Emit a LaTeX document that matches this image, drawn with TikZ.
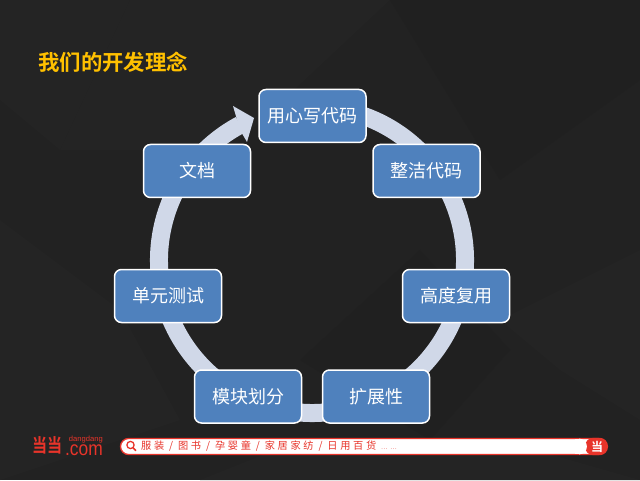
\documentclass[tikz,border=0pt]{standalone}
\usepackage{fontspec}
\setmainfont{Noto Sans CJK SC}
\newfontfamily\barfont[LetterSpace=26]{Noto Sans CJK SC}
\newfontfamily\cjkbold{Noto Sans CJK SC Bold}
\setsansfont{Liberation Sans}
\definecolor{bgdark}{HTML}{222222}
\definecolor{bgfacet}{HTML}{242424}
\definecolor{bgfacetb}{HTML}{202020}
\definecolor{ringc}{HTML}{D0D8E8}
\definecolor{boxc}{HTML}{4F81BD}
\definecolor{titlec}{HTML}{FFC000}
\definecolor{ddred}{HTML}{E8342A}
\tikzset{
  x=1pt,y=1pt,
  stepbox/.style={draw=white,line width=1.5pt,fill=boxc,rounded corners=7pt,minimum width=107pt,minimum height=53pt,inner sep=0pt,text=white,font=\fontsize{18}{20}\selectfont,anchor=center},
  barlabel/.style={text=ddred,font=\barfont\fontsize{10.2}{11}\selectfont,inner sep=0pt,anchor=west},
}
\begin{document}
\begin{tikzpicture}
\useasboundingbox (0,0) rectangle (640,480);
\fill[bgdark] (0,0) rectangle (640,480);
% faint background facets
\fill[bgfacet] (0,480) -- (130,480) -- (60,330) -- (0,380) -- cycle;
\fill[bgfacet] (130,480) -- (390,480) -- (230,330) -- (60,330) -- cycle;
\fill[bgfacetb] (390,480) -- (640,480) -- (640,400) -- (500,300) -- cycle;
\fill[bgfacet] (0,260) -- (120,170) -- (180,60) -- (0,0) -- cycle;
\fill[bgfacet] (500,160) -- (640,230) -- (640,60) -- (560,110) -- cycle;
\fill[bgfacetb] (300,120) -- (420,230) -- (510,130) -- (430,40) -- cycle;
\fill[bgfacet] (300,40) -- (500,40) -- (640,0) -- (200,0) -- cycle;
% ring with arrow head
\coordinate (ringc) at (312,220);
\draw[ringc,line width=18pt] (ringc) ++(80:153pt) arc[start angle=80,end angle=-242,radius=153pt];
\fill[ringc] (233,374) -- (254,362) -- (247,338) -- (240,350) -- cycle;
% steps
\node[stepbox] (write) at (312.5,364) {用心写代码};
\node[stepbox] (clean) at (426.5,309) {整洁代码};
\node[stepbox] (reuse) at (456,184) {高度复用};
\node[stepbox] (extend) at (376,83.5) {扩展性};
\node[stepbox] (module) at (248,83.5) {模块划分};
\node[stepbox] (test) at (168,184) {单元测试};
\node[stepbox] (doc) at (197,309) {文档};
% title
\node[text=titlec,font=\cjkbold\fontsize{21.4}{24}\selectfont,inner sep=0pt,anchor=west] (title) at (38,418) {我们的开发理念};
% logo
\node[text=ddred,font=\cjkbold\fontsize{15}{16}\selectfont,inner sep=0pt,anchor=west,yscale=1.25,transform shape] (logomark) at (32.5,34.5) {当当};
\node[text=ddred,font=\sffamily\fontsize{7.6}{8}\selectfont,inner sep=0pt,anchor=base east] (logosmall) at (103,38.5) {dangdang};
\node[text=ddred,font=\sffamily\fontsize{20}{20}\selectfont,inner sep=0pt,anchor=base east,xscale=0.87,transform shape] (logocom) at (103,25) {.com};
% search bar
\draw[ddred,fill=white,line width=1.3pt,rounded corners=8pt] (120.5,25.5) rectangle (606,41.5);
\fill[ddred,rounded corners=8.4pt] (585,24.8) rectangle (608,42.2);
\fill[white] (575,25.6) rectangle (579,41.4);
\fill[white] (579,25.6) arc[start angle=-90,end angle=90,radius=7.9pt] -- cycle;
\draw[ddred,line width=1.3pt] (130.5,35) circle[radius=3.6pt];
\draw[ddred,line width=1.6pt] (133,32.3) -- (136,29.3);
\node[barlabel] (barmenu) at (141,33.5) {服装 / 图书 / 孕婴童 / 家居家纺 / 日用百货 \fontsize{6}{6}\selectfont ⋯ ⋯};
\node[text=white,font=\cjkbold\fontsize{12}{12}\selectfont,inner sep=0pt] (capmark) at (597,33) {当};
\end{tikzpicture}
\end{document}
